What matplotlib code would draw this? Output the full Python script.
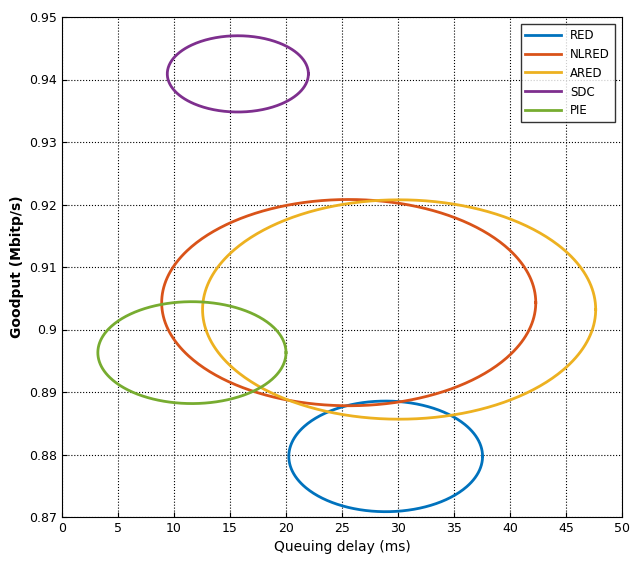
import matplotlib.pyplot as plt
import numpy as np

names = ['RED', 'NLRED', 'ARED', 'SDC', 'PIE']
colors = ['#0072BD', '#D95319', '#EDB120', '#7E2F8E', '#77AC30']
center_x = [28.9, 25.6, 30.1, 15.7, 11.6]
center_y = [0.8797, 0.9043, 0.9032, 0.9409, 0.8963]
width = [17.3, 33.4, 35.1, 12.6, 16.8]
height = [0.0177, 0.0330, 0.0351, 0.0122, 0.0163]

fig = plt.figure(figsize=[6.30, 5.73], dpi=100)
ax = fig.add_axes([62/630, 56/573, 560/630, 500/573])

t = np.linspace(0, 2*np.pi, 400)
for n, c, cx, cy, w, h in zip(names, colors, center_x, center_y, width, height):
    ax.plot(cx + w/2*np.cos(t), cy + h/2*np.sin(t), color=c, lw=2, label=n)

ax.set_xlim(0, 50)
ax.set_ylim(0.87, 0.95)
ax.set_xticks(np.arange(0, 51, 5))
ax.set_yticks(np.arange(0.87, 0.951, 0.01))
ax.set_yticklabels(['0.87', '0.88', '0.89', '0.9', '0.91', '0.92', '0.93', '0.94', '0.95'])
ax.tick_params(labelsize=9, direction='in')
ax.grid(True, linestyle=':', color='black', lw=0.8)
ax.set_xlabel('Queuing delay (ms)', fontsize=10)
ax.set_ylabel('Goodput (Mbitp/s)', fontsize=10, fontweight='bold')
leg = ax.legend(loc='upper right', fontsize=8.5, fancybox=False, edgecolor='black',
                handlelength=3, borderaxespad=0.6)
fig.savefig('out.png')
